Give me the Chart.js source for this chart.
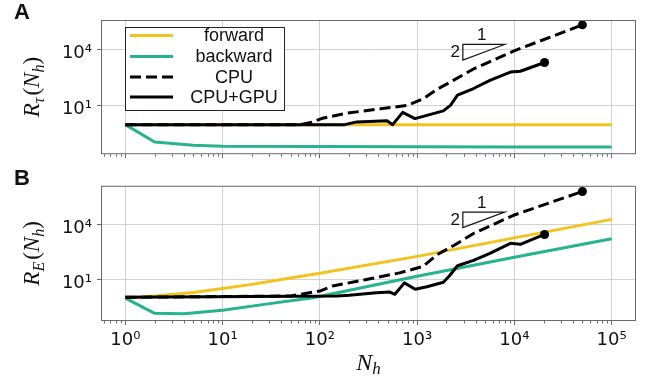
<!DOCTYPE html>
<html>
<head>
<meta charset="utf-8">
<script src="https://cdn.jsdelivr.net/npm/chart.js@4.4.1/dist/chart.umd.min.js"></script>
<style>
  body { margin: 0; background: #fff; width: 655px; height: 386px; position: relative; overflow: hidden; }
  canvas { position: absolute; left: 0; }
  #chartA { top: 0; }
  #chartB { top: 170px; }
</style>
</head>
<body>
<canvas id="chartA" width="655" height="170"></canvas>
<canvas id="chartB" width="655" height="216"></canvas>
<script>
// ---- data ----
const xTicks = [1, 10, 100, 1000, 10000, 100000];
const yTicks = [10, 10000];

// panel A : R_tau(N_h)
const fwdNA = [1, 10, 100, 1000, 10000, 100000];
const fwdA  = [1, 1, 1, 1, 1, 1];
const bwdNA = [1, 2, 5, 10, 100, 1000, 10000, 100000];
const bwdA  = [1, 0.12, 0.081, 0.072, 0.068, 0.066, 0.065, 0.065];
const cpuNA = [1, 63, 85, 107, 190, 420, 800, 1170, 1600, 2050, 3800, 9800, 50000];
const cpuA  = [1, 1, 1.4, 2.2, 4.1, 6.9, 10.5, 25, 76, 150, 910, 8100, 200000];
const gpuNA = [1, 180, 240, 490, 560, 710, 950, 1260, 1860, 2200, 2600, 3800, 5600, 9100, 11500, 20400];
const gpuA  = [1, 1, 1.4, 1.6, 1.0, 4.5, 2.1, 3.1, 5.4, 10.5, 37, 83, 225, 620, 690, 2000];

// panel B : R_E(N_h)
const fwdNB = [1, 2, 5, 10, 20, 40, 100, 1000, 10000, 100000];
const fwdB  = [1, 1.3, 2, 3.3, 5.5, 10, 22, 180, 1800, 18000];
const bwdNB = [1, 2, 4, 10, 28, 85, 1000, 10000, 100000];
const bwdB  = [1, 0.15, 0.14, 0.22, 0.47, 1.05, 15, 160, 1600];
const cpuNB = [1, 50, 63, 100, 135, 300, 660, 1150, 1600, 2600, 3800, 9800, 50000];
const cpuB  = [1.1, 1.3, 1.6, 2.4, 4.5, 10, 23, 51, 220, 910, 3100, 30000, 580000];
const gpuNB = [1, 150, 200, 380, 525, 590, 740, 955, 1260, 1860, 2140, 2600, 3800, 5600, 9100, 11500, 20400];
const gpuB  = [1.1, 1.3, 1.4, 1.95, 2.1, 1.6, 6.6, 3.0, 4.1, 7.1, 15.5, 56, 110, 260, 910, 810, 2750];

const YELLOW = '#f2c31e';
const TEAL = '#26b38e';
const GRID = '#d2d2d2';
const AXIS = '#6a6a6a';
const SUP = { 0: '\u2070', 1: '\u00b9', 2: '\u00b2', 3: '\u00b3', 4: '\u2074', 5: '\u2075' };
const legendOrder = ['forward', 'backward', 'CPU', 'CPU+GPU'];

function series(label, ns, vals, color, dash, order, endDot) {
  return {
    label: label,
    order: order,
    data: ns.map((n, i) => ({ x: n, y: vals[i] })),
    borderColor: color,
    backgroundColor: color,
    borderWidth: 3,
    borderDash: dash,
    borderCapStyle: 'butt',
    borderJoinStyle: 'round',
    tension: 0,
    fill: false,
    pointRadius: endDot ? (c => c.dataIndex === ns.length - 1 ? 4.5 : 0) : 0,
    pointBorderWidth: 0,
    pointBackgroundColor: color
  };
}

// draws a math-like label made of parts (normal / subscript)
function mathText(ctx, parts) {
  let w = 0;
  parts.forEach(p => { ctx.font = p.font; p.w = ctx.measureText(p.t).width + (p.gap || 0); w += p.w; });
  let x = -w / 2;
  parts.forEach(p => { ctx.font = p.font; ctx.fillText(p.t, x, p.dy || 0); x += p.w; });
}

const decor = {
  id: 'decor',
  afterDatasetsDraw(chart, args, o) {
    const ctx = chart.ctx, a = chart.chartArea;
    const xs = chart.scales.x, ys = chart.scales.y;
    ctx.save();
    // minor ticks on x
    ctx.strokeStyle = AXIS;
    ctx.lineWidth = 1;
    for (let d = -1; d <= 5; d++) {
      for (let m = 2; m <= 9; m++) {
        const v = m * Math.pow(10, d);
        if (v < xs.min || v > xs.max) continue;
        const px = Math.round(xs.getPixelForValue(v)) + 0.5;
        ctx.beginPath(); ctx.moveTo(px, a.bottom); ctx.lineTo(px, a.bottom + 2.5); ctx.stroke();
      }
    }
    // frame
    ctx.strokeRect(a.left + 0.5, a.top + 0.5, a.right - a.left - 1, a.bottom - a.top - 1);

    // slope triangle
    const t = o.tri;
    const x0 = xs.getPixelForValue(t.x0), x1 = xs.getPixelForValue(t.x1);
    const yT = ys.getPixelForValue(t.yTop), yB = ys.getPixelForValue(t.yBot);
    ctx.strokeStyle = '#111';
    ctx.lineWidth = 1.2;
    ctx.beginPath();
    ctx.moveTo(x0, yB); ctx.lineTo(x0, yT); ctx.lineTo(x1, yT); ctx.closePath();
    ctx.stroke();
    ctx.fillStyle = '#111';
    ctx.font = '17px "Liberation Sans"';
    ctx.textBaseline = 'middle';
    ctx.textAlign = 'center';
    ctx.fillText('1', (x0 + x1) / 2 - 2, yT - 9);
    ctx.textAlign = 'right';
    ctx.fillText('2', x0 - 3, (yT + yB) / 2);

    // legend
    if (o.legend) {
      const lx = 125.5, ly = 27.5, lw = 159, lh = 83;
      ctx.fillStyle = '#fff';
      ctx.fillRect(lx, ly, lw, lh);
      ctx.strokeStyle = '#222';
      ctx.lineWidth = 1;
      ctx.strokeRect(lx, ly, lw, lh);
      const rows = [35.5, 56.5, 77, 97];
      legendOrder.forEach((name, i) => {
        const ds = chart.data.datasets.find(d => d.label === name);
        ctx.strokeStyle = ds.borderColor;
        ctx.lineWidth = 3;
        ctx.lineCap = 'butt';
        ctx.setLineDash(ds.borderDash || []);
        ctx.beginPath(); ctx.moveTo(130, rows[i]); ctx.lineTo(173, rows[i]); ctx.stroke();
        ctx.setLineDash([]);
        ctx.fillStyle = '#111';
        ctx.font = '18px "Liberation Sans"';
        ctx.textAlign = 'center';
        ctx.textBaseline = 'middle';
        ctx.fillText(name, 234, rows[i] + 1);
      });
    }
    ctx.restore();
  },
  afterDraw(chart, args, o) {
    const ctx = chart.ctx, a = chart.chartArea;
    ctx.save();
    ctx.fillStyle = '#111';
    ctx.textBaseline = 'alphabetic';
    ctx.textAlign = 'left';
    // panel letter
    ctx.font = 'bold 22px "Liberation Sans"';
    ctx.fillText(o.letter, 14, o.letterY);
    // y axis title
    const big = 'italic 23px "Liberation Serif"', small = 'italic 16px "Liberation Serif"', up = '23px "Liberation Serif"';
    ctx.translate(39, (a.top + a.bottom) / 2);
    ctx.rotate(-Math.PI / 2);
    mathText(ctx, [
      { t: 'R', font: big },
      { t: o.ysub, font: small, dy: 5, gap: 2 },
      { t: '(', font: up },
      { t: 'N', font: big },
      { t: 'h', font: small, dy: 5 },
      { t: ')', font: up }
    ]);
    ctx.setTransform(1, 0, 0, 1, 0, 0);
    // x axis title
    if (o.xTitle) {
      ctx.translate((a.left + a.right) / 2, 200);
      mathText(ctx, [
        { t: 'N', font: 'italic 24px "Liberation Serif"' },
        { t: 'h', font: 'italic 17px "Liberation Serif"', dy: 4 }
      ]);
    }
    ctx.restore();
  }
};

function makeChart(id, datasets, p) {
  return new Chart(document.getElementById(id), {
    type: 'line',
    data: { datasets: datasets },
    plugins: [decor],
    options: {
      responsive: false,
      animation: false,
      devicePixelRatio: 1,
      layout: { padding: { left: 0, right: 19, top: p.top, bottom: 0 } },
      plugins: {
        legend: { display: false },
        tooltip: { enabled: false },
        decor: p.decor
      },
      scales: {
        x: {
          type: 'logarithmic',
          min: Math.pow(10, -0.25),
          max: Math.pow(10, 5.25),
          afterBuildTicks: s => { s.ticks = xTicks.map(v => ({ value: v })); },
          afterFit: s => { s.height = p.xHeight; },
          border: { display: false },
          grid: { color: GRID, tickColor: AXIS, tickLength: 4 },
          ticks: {
            display: p.xLabels,
            autoSkip: false,
            maxRotation: 0,
            padding: 5,
            color: '#111',
            font: { family: 'DejaVu Sans', size: 18 },
            callback: v => '10' + SUP[Math.round(Math.log10(v))]
          }
        },
        y: {
          type: 'logarithmic',
          min: p.yMin,
          max: p.yMax,
          afterBuildTicks: s => { s.ticks = yTicks.map(v => ({ value: v })); },
          afterFit: s => { s.width = 101; },
          border: { display: false },
          grid: { color: GRID, tickColor: AXIS, tickLength: 4 },
          ticks: {
            padding: 5,
            labelOffset: 4,
            color: '#111',
            font: { family: 'DejaVu Sans', size: 18 },
            callback: v => '10' + SUP[Math.round(Math.log10(v))]
          }
        }
      }
    }
  });
}

const chartA = makeChart('chartA', [
  series('forward', fwdNA, fwdA, YELLOW, [], 4, false),
  series('backward', bwdNA, bwdA, TEAL, [], 3, false),
  series('CPU', cpuNA, cpuA, '#000', [11, 5], 2, true),
  series('CPU+GPU', gpuNA, gpuA, '#000', [], 1, true)
], {
  top: 20, xHeight: 13, xLabels: false,
  yMin: Math.pow(10, -1.57), yMax: Math.pow(10, 5.56),
  decor: {
    letter: 'A', letterY: 19, ysub: '\u03c4', legend: true, xTitle: false,
    tri: { x0: Math.pow(10, 3.47), x1: Math.pow(10, 3.9), yTop: Math.pow(10, 4.26), yBot: Math.pow(10, 3.43) }
  }
});

const chartB = makeChart('chartB', [
  series('forward', fwdNB, fwdB, YELLOW, [], 4, false),
  series('backward', bwdNB, bwdB, TEAL, [], 3, false),
  series('CPU', cpuNB, cpuB, '#000', [11, 5], 2, true),
  series('CPU+GPU', gpuNB, gpuB, '#000', [], 1, true)
], {
  top: 13, xHeight: 65, xLabels: true,
  yMin: Math.pow(10, -1.24), yMax: Math.pow(10, 6.07),
  decor: {
    letter: 'B', letterY: 15, ysub: 'E', legend: false, xTitle: true,
    tri: { x0: Math.pow(10, 3.47), x1: Math.pow(10, 3.9), yTop: Math.pow(10, 4.65), yBot: Math.pow(10, 3.81) }
  }
});
</script>
</body>
</html>
